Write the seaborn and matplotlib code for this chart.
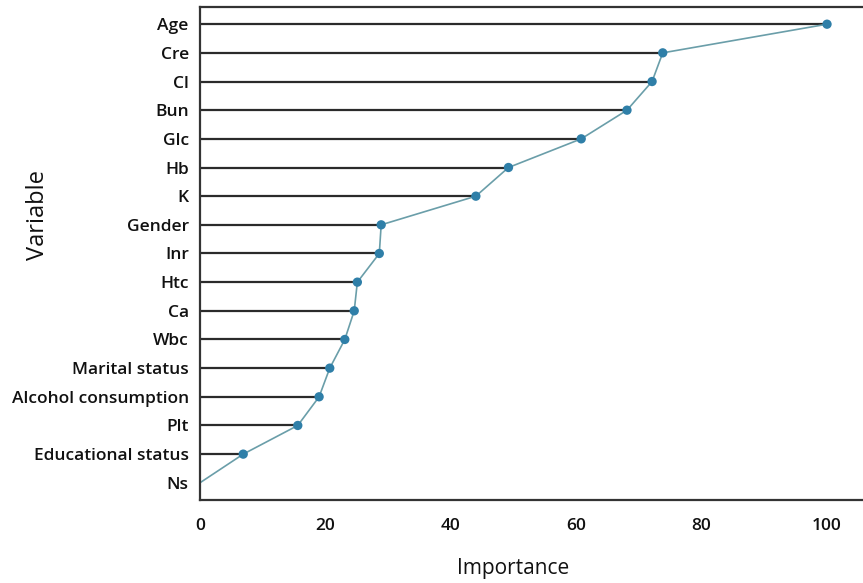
import numpy as np
import pandas as pd
import matplotlib
matplotlib.use("Agg")
import matplotlib.pyplot as plt
import seaborn as sns

# variable importance, top to bottom
variables = ["Age", "Cre", "Cl", "Bun", "Glc", "Hb", "K", "Gender", "Inr", "Htc",
             "Ca", "Wbc", "Marital status", "Alcohol consumption", "Plt",
             "Educational status", "Ns"]
importance = [100, 73.8, 72.1, 68.1, 60.8, 49.2, 44.0, 28.9, 28.6, 25.1,
              24.6, 23.1, 20.7, 19.0, 15.6, 6.9, 0]
x_ticks = [0, 20, 40, 60, 80, 100]

df = pd.DataFrame({"Variable": variables, "Importance": importance})
df["pos"] = np.arange(len(df))

sns.set_style("white")
plt.rcParams["font.family"] = ["Open Sans", "DejaVu Sans"]

fig = plt.figure(figsize=(8.63, 5.83), dpi=100)
ax = fig.add_axes([0.2317, 0.1424, 0.7673, 0.8456])

# stems
ax.hlines(df["pos"], 0, df["Importance"], color="#2b2b2b", linewidth=1.6, zorder=1)
# connecting line
sns.lineplot(data=df, x="Importance", y="pos", sort=False, estimator=None,
             color="#6a9ea9", linewidth=1.2, ax=ax, zorder=2)
# points
sns.scatterplot(data=df[df["Importance"] > 0], x="Importance", y="pos",
                color="#2f7fa8", s=45, edgecolor="none", ax=ax, zorder=3)

ax.set_xlim(0, 105.6)
ax.set_ylim(len(df) - 0.4, -0.6)
ax.set_yticks(df["pos"])
ax.set_yticklabels(variables, fontsize=12.5, fontweight="semibold", color="#111111")
ax.set_xticks(x_ticks)
ax.set_xticklabels([str(t) for t in x_ticks], fontsize=12.5, fontweight="semibold",
                   color="#111111")
ax.tick_params(axis="x", direction="out", length=7, width=1.5, color="#333333", pad=6)
ax.tick_params(axis="y", length=0, pad=8)

for side in ["left", "bottom", "top"]:
    ax.spines[side].set_color("#333333")
    ax.spines[side].set_linewidth(1.6)
ax.spines["right"].set_visible(False)

ax.set_xlabel("Importance", fontsize=15, color="#111111")
ax.set_ylabel("Variable", fontsize=17, color="#111111")
ax.xaxis.set_label_coords(0.473, -0.118)
ax.yaxis.set_label_coords(-0.226, 0.578)

fig.savefig("out.png", dpi=100)
